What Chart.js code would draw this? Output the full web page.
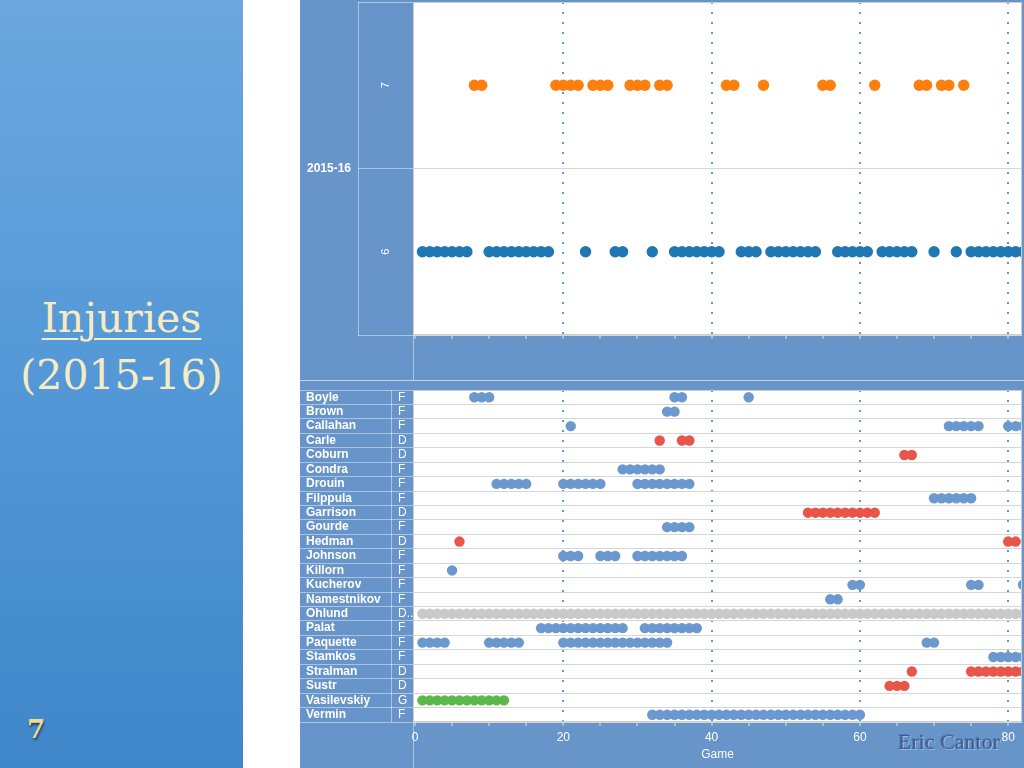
<!DOCTYPE html>
<html>
<head>
<meta charset="utf-8">
<title>Injuries (2015-16)</title>
<script src="https://cdn.jsdelivr.net/npm/chart.js@4.4.1/dist/chart.umd.min.js"></script>
<style>
  body{margin:0;width:1024px;height:768px;overflow:hidden;background:#fff;position:relative;}
  #lateral{position:absolute;left:0;top:0;width:243px;height:768px;background:linear-gradient(#6ca7de,#5196d6 55%,#3f87c9);}
  #titulo{position:absolute;left:0;top:290px;width:243px;text-align:center;font-family:"DejaVu Serif",serif;font-size:41px;line-height:57px;color:#f7ebc3;}
  #titulo u{text-decoration-thickness:2px;text-underline-offset:6px;}
  #pagina{position:absolute;left:27px;top:714px;font-family:"DejaVu Serif",serif;font-weight:bold;font-size:26px;color:#f1d98f;text-shadow:1px 2px 2px rgba(0,0,0,0.5);}
  #tablero{position:absolute;left:300px;top:0;width:724px;height:768px;background:#c5d3e6;}
  #cajaArriba{position:absolute;left:0;top:0;width:724px;height:380px;}
  #cajaAbajo{position:absolute;left:0;top:381px;width:724px;height:387px;}
  #firma{position:absolute;left:898px;top:729px;font-family:"Liberation Serif",serif;font-size:22px;color:rgba(38,70,128,0.7);text-shadow:1px 1px 0 rgba(255,255,255,0.35),-1px -1px 0 rgba(0,0,0,0.15);}
</style>
</head>
<body>
<div id="lateral">
  <div id="titulo"><u>Injuries</u><br>(2015-16)</div>
  <div id="pagina">7</div>
</div>
<div id="tablero">
  <div id="cajaArriba"><canvas id="lesionadosPartido"></canvas></div>
  <div id="cajaAbajo"><canvas id="lesionesJugador"></canvas></div>
</div>
<div id="firma">Eric Cantor</div>
<script>
//DATOS GRAFICA DE ARRIBA (jugadores lesionados por partido)
var filasArriba = ['7', '6'];
var temporada = ['2015-16'];
var partidosCon7 = [8, 9, 19, 20, 21, 22, 24, 25, 26, 29, 30, 31, 33, 34, 42, 43, 47, 55, 56, 62, 68, 69, 71, 72, 74];
var partidosCon6 = [1, 2, 3, 4, 5, 6, 7, 10, 11, 12, 13, 14, 15, 16, 17, 18, 23, 27, 28, 32,
    35, 36, 37, 38, 39, 40, 41, 44, 45, 46, 48, 49, 50, 51, 52, 53, 54, 57, 58, 59, 60, 61,
    63, 64, 65, 66, 67, 70, 73, 75, 76, 77, 78, 79, 80, 81, 82];

//DATOS GRAFICA DE ABAJO (partidos perdidos por jugador)
var jugadores = ['Boyle', 'Brown', 'Callahan', 'Carle', 'Coburn', 'Condra', 'Drouin', 'Filppula',
    'Garrison', 'Gourde', 'Hedman', 'Johnson', 'Killorn', 'Kucherov', 'Namestnikov', 'Ohlund',
    'Palat', 'Paquette', 'Stamkos', 'Stralman', 'Sustr', 'Vasilevskiy', 'Vermin'];
var posiciones = ['F', 'F', 'F', 'D', 'D', 'F', 'F', 'F', 'D', 'F', 'D', 'F', 'F', 'F', 'F', 'D..',
    'F', 'F', 'F', 'D', 'D', 'G', 'F'];

var partidosBoyle = [8, 9, 10, 35, 36, 45];
var partidosBrown = [34, 35];
var partidosCallahan = [21, 72, 73, 74, 75, 76, 80, 81, 82];
var partidosCarle = [33, 36, 37];
var partidosCoburn = [66, 67];
var partidosCondra = [28, 29, 30, 31, 32, 33];
var partidosDrouin = [11, 12, 13, 14, 15, 20, 21, 22, 23, 24, 25, 30, 31, 32, 33, 34, 35, 36, 37];
var partidosFilppula = [70, 71, 72, 73, 74, 75];
var partidosGarrison = [53, 54, 55, 56, 57, 58, 59, 60, 61, 62];
var partidosGourde = [34, 35, 36, 37];
var partidosHedman = [6, 80, 81];
var partidosJohnson = [20, 21, 22, 25, 26, 27, 30, 31, 32, 33, 34, 35, 36];
var partidosKillorn = [5];
var partidosKucherov = [59, 60, 75, 76, 82];
var partidosNamestnikov = [56, 57];
var partidosOhlund = [1, 2, 3, 4, 5, 6, 7, 8, 9, 10, 11, 12, 13, 14, 15, 16, 17, 18, 19, 20,
    21, 22, 23, 24, 25, 26, 27, 28, 29, 30, 31, 32, 33, 34, 35, 36, 37, 38, 39, 40, 41,
    42, 43, 44, 45, 46, 47, 48, 49, 50, 51, 52, 53, 54, 55, 56, 57, 58, 59, 60, 61, 62,
    63, 64, 65, 66, 67, 68, 69, 70, 71, 72, 73, 74, 75, 76, 77, 78, 79, 80, 81, 82];
var partidosPalat = [17, 18, 19, 20, 21, 22, 23, 24, 25, 26, 27, 28, 31, 32, 33, 34, 35, 36, 37, 38];
var partidosPaquette = [1, 2, 3, 4, 10, 11, 12, 13, 14, 20, 21, 22, 23, 24, 25, 26, 27, 28, 29,
    30, 31, 32, 33, 34, 69, 70];
var partidosStamkos = [78, 79, 80, 81, 82];
var partidosStralman = [67, 75, 76, 77, 78, 79, 80, 81, 82];
var partidosSustr = [64, 65, 66];
var partidosVasilevskiy = [1, 2, 3, 4, 5, 6, 7, 8, 9, 10, 11, 12];
var partidosVermin = [32, 33, 34, 35, 36, 37, 38, 39, 40, 41, 42, 43, 44, 45, 46, 47, 48, 49,
    50, 51, 52, 53, 54, 55, 56, 57, 58, 59, 60];

var partidosLesion = [partidosBoyle, partidosBrown, partidosCallahan, partidosCarle, partidosCoburn,
    partidosCondra, partidosDrouin, partidosFilppula, partidosGarrison, partidosGourde, partidosHedman,
    partidosJohnson, partidosKillorn, partidosKucherov, partidosNamestnikov, partidosOhlund, partidosPalat,
    partidosPaquette, partidosStamkos, partidosStralman, partidosSustr, partidosVasilevskiy, partidosVermin];

//EJE X (partido)
var marcasX = [0, 5, 10, 15, 20, 25, 30, 35, 40, 45, 50, 55, 60, 65, 70, 75, 80];
var etiquetasX = [0, 20, 40, 60, 80];

//COLORES
var azulEncabezado = '#6794c9';
var lineaClara = 'rgba(255,255,255,0.45)';
var lineaFila = '#d6d6d6';
var azulPunteado = '#5b9bd5';
var colorPosicion = {'F': '#6a98cf', 'D': '#e8564a', 'G': '#5cb84a', 'D..': '#c9c9c9'};

Chart.defaults.font.family = '"Liberation Sans", Arial, sans-serif';
Chart.defaults.animation = false;

// fondo azul de los encabezados y separadores
var fondoTablero = {
    id: 'fondoTablero',
    beforeDraw: function(chart) {
        var ctx = chart.ctx, a = chart.chartArea;
        ctx.save();
        ctx.fillStyle = azulEncabezado;
        ctx.fillRect(0, 0, chart.width, chart.height);
        ctx.fillStyle = '#fff';
        ctx.fillRect(a.left, a.top, a.right - a.left, a.bottom - a.top);
        ctx.restore();
    },
    afterDraw: function(chart) {
        var ctx = chart.ctx, a = chart.chartArea;
        ctx.save();
        ctx.lineWidth = 1;
        ctx.strokeStyle = '#cdcdcd';
        ctx.strokeRect(a.left + 0.5, a.top + 0.5, a.right - a.left - 1, a.bottom - a.top - 1);
        ctx.strokeStyle = lineaClara;
        ctx.beginPath();
        ctx.moveTo(a.left + 0.5, a.bottom);
        ctx.lineTo(a.left + 0.5, chart.height);
        if (chart.scales.yPos) {
            var xs = chart.scales.yPos.left - 7 + 0.5;
            ctx.moveTo(xs, a.top);
            ctx.lineTo(xs, a.bottom);
        }
        ctx.stroke();
        ctx.restore();
    }
};

// ancho fijo de columna sin relleno extra arriba/abajo
function columnaFija(ancho) {
    return function(eje) {
        eje.width = ancho;
        eje.paddingTop = 0;
        eje.paddingBottom = 0;
    };
}

function ejeJuegos(conEtiquetas, alto) {
    return {
        type: 'linear',
        position: 'bottom',
        min: -0.27,
        max: 81.86,
        bounds: 'data',
        z: 1,
        afterBuildTicks: function(eje) {
            eje.ticks = marcasX.map(function(v) { return {value: v}; });
        },
        afterFit: function(eje) { eje.height = alto; },
        border: {display: false, dash: [2, 8]},
        grid: {
            lineWidth: 2,
            color: function(c) {
                return (c.tick && c.tick.value > 0 && etiquetasX.indexOf(c.tick.value) >= 0) ? azulPunteado : 'rgba(0,0,0,0)';
            },
            tickColor: 'rgba(255,255,255,0.8)',
            tickWidth: 1,
            tickLength: 4
        },
        ticks: {
            display: conEtiquetas,
            autoSkip: false,
            maxRotation: 0,
            padding: 4,
            color: '#fff',
            font: {size: 12},
            callback: function(v) { return etiquetasX.indexOf(v) >= 0 ? v : ''; }
        },
        title: {
            display: conEtiquetas,
            text: 'Game',
            color: '#fff',
            font: {size: 12},
            padding: {top: 0, bottom: 6}
        }
    };
}

//GRAFICA DE ARRIBA
var lesionados_v = document.getElementById('lesionadosPartido').getContext('2d');
var configArriba = {
    type: 'scatter',
    data: {
        datasets: [{
            label: '7',
            yAxisID: 'y',
            data: partidosCon7.map(function(p) { return {x: p, y: '7'}; }),
            backgroundColor: '#ff7f0e',
            borderColor: '#ff7f0e',
            pointRadius: 5.7,
            pointBorderWidth: 0
        }, {
            label: '6',
            yAxisID: 'y',
            data: partidosCon6.map(function(p) { return {x: p, y: '6'}; }),
            backgroundColor: '#1f77b4',
            borderColor: '#1f77b4',
            pointRadius: 5.7,
            pointBorderWidth: 0
        }]
    },
    options: {
        responsive: true,
        maintainAspectRatio: false,
        events: [],
        layout: {autoPadding: false, padding: {left: 0, top: 2, right: 2, bottom: 0}},
        plugins: {legend: {display: false}, tooltip: {enabled: false}},
        scales: {
            x: ejeJuegos(false, 45),
            y: {
                type: 'category',
                labels: filasArriba,
                position: 'left',
                weight: 0,
                offset: true,
                afterFit: columnaFija(55),
                grid: {offset: true, color: lineaFila, tickColor: lineaClara, tickLength: 55},
                border: {display: true, color: lineaClara},
                ticks: {minRotation: 90, crossAlign: 'center', padding: -31, color: '#fff', font: {size: 11}}
            },
            ySeason: {
                type: 'category',
                labels: temporada,
                position: 'left',
                weight: 1,
                offset: true,
                afterFit: columnaFija(58),
                grid: {display: false},
                border: {display: true, color: lineaClara},
                ticks: {crossAlign: 'center', padding: -1, color: '#fff', font: {size: 12, weight: 'bold'}}
            }
        }
    },
    plugins: [fondoTablero]
};
var graficoArriba = new Chart(lesionados_v, configArriba);

//GRAFICA DE ABAJO
var lesiones_v = document.getElementById('lesionesJugador').getContext('2d');
var datosJugadores = jugadores.map(function(nombre, i) {
    var color = colorPosicion[posiciones[i]];
    return {
        label: nombre,
        yAxisID: 'y',
        data: partidosLesion[i].map(function(p) { return {x: p, y: nombre}; }),
        backgroundColor: color,
        borderColor: color,
        pointRadius: 5.2,
        pointBorderWidth: 0
    };
});
var configAbajo = {
    type: 'scatter',
    data: {datasets: datosJugadores},
    options: {
        responsive: true,
        maintainAspectRatio: false,
        events: [],
        layout: {autoPadding: false, padding: {left: 6, top: 9, right: 2, bottom: 0}},
        plugins: {legend: {display: false}, tooltip: {enabled: false}},
        scales: {
            x: ejeJuegos(true, 46),
            y: {
                type: 'category',
                labels: jugadores,
                position: 'left',
                weight: 1,
                offset: true,
                afterFit: columnaFija(92),
                grid: {offset: true, drawOnChartArea: false, tickColor: lineaClara, tickLength: 98},
                border: {display: false},
                ticks: {crossAlign: 'far', autoSkip: false, color: '#fff', font: {size: 12, weight: 'bold'}}
            },
            yPos: {
                type: 'category',
                labels: posiciones,
                position: 'left',
                weight: 0,
                offset: true,
                afterFit: columnaFija(15),
                grid: {offset: true, color: lineaFila, tickColor: lineaClara, tickLength: 15},
                border: {display: true, color: lineaClara},
                ticks: {crossAlign: 'far', autoSkip: false, color: '#fff', font: {size: 12}}
            }
        }
    },
    plugins: [fondoTablero]
};
var graficoAbajo = new Chart(lesiones_v, configAbajo);
</script>
</body>
</html>
